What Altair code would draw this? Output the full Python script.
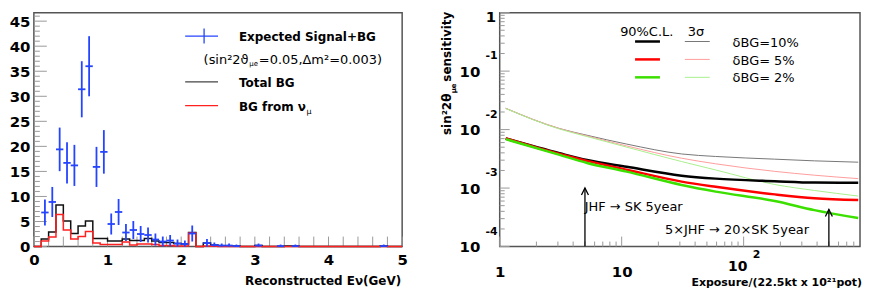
import altair as alt
import pandas as pd

FONT = "DejaVu Sans"
W1, W2, H = 370, 362, 235
BLUE = "#2444ff"
TICK = "#999999"

# ---------------- left panel data ----------------
bin_lo = [round(0.1 * i, 1) for i in range(50)]
total_bg = [0, 1.5, 2.9, 8.3, 5.1, 2.6, 4.1, 5.1, 1.6, 1.6,
            1.1, 1.1, 1.5, 1.2, 1.2, 1.6, 1.1, 0.8, 0.8, 0.6,
            0.5, 2.8, 0, 0.7, 0.3, 0.1, 0.1, 0.1, 0, 0,
            0.2, 0, 0, 0, 0.1, 0.1, 0, 0, 0, 0,
            0, 0, 0, 0, 0, 0, 0, 0.1, 0, 0]
bg_numu = [0, 1.1, 1.9, 6.4, 3.3, 1.5, 2.0, 3.0, 0.7, 0.4,
           0.4, 0.4, 0.9, 0.3, 0.5, 0.5, 0.4, 0.2, 0.2, 0.1,
           0.1, 2.7, 0, 0.1, 0.05, 0, 0, 0, 0, 0,
           0, 0, 0, 0, 0, 0, 0, 0, 0, 0,
           0, 0, 0, 0, 0, 0, 0, 0, 0, 0]
sig_x = [0.15, 0.25, 0.35, 0.45, 0.55, 0.65, 0.75, 0.85, 0.95, 1.05,
         1.15, 1.25, 1.35, 1.45, 1.55, 1.65, 1.75, 1.85, 1.95, 2.05,
         2.15, 2.35, 2.45, 2.55, 2.65, 2.75, 3.05, 3.35, 3.55, 4.75]
sig_y = [6.8, 8.9, 19.4, 16.7, 16.2, 31.4, 36.0, 15.9, 18.9, 4.5,
         6.9, 2.8, 3.3, 2.5, 2.3, 1.4, 1.0, 1.2, 0.6, 0.5,
         2.6, 0.7, 0.3, 0.2, 0.2, 0.1, 0.2, 0.1, 0.1, 0.1]
sig_err = [2.6, 3.0, 4.35, 4.1, 4.1, 5.6, 6.0, 4.0, 4.35, 2.1,
           2.6, 1.7, 1.8, 1.6, 1.5, 1.2, 1.0, 1.1, 0.8, 0.7,
           1.6, 0.8, 0.5, 0.4, 0.4, 0.3, 0.4, 0.3, 0.3, 0.3]
e_labels = [0, 1, 2, 3, 4, 5]
n_labels = [0, 5, 10, 15, 20, 25, 30, 35, 40, 45]

# ---------------- right panel data ----------------
exposure = [1.12, 3.1, 5.2, 11, 31, 59, 180, 380, 870]
cl90_10 = [0.00705, 0.00394, 0.00302, 0.00231, 0.00163, 0.00145, 0.00131, 0.00124, 0.00123]
cl90_5 = [0.00705, 0.00383, 0.00292, 0.00206, 0.00129, 0.00105, 0.00078, 0.00067, 0.000625]
cl90_2 = [0.00686, 0.00369, 0.00269, 0.00191, 0.00113, 0.00087, 0.00060, 0.00042, 0.000307]
s3_10 = [0.0231, 0.0104, 0.0080, 0.00565, 0.00383, 0.00347, 0.00312, 0.00292, 0.00277]
s3_5 = [0.0231, 0.0104, 0.0078, 0.00525, 0.00324, 0.0026, 0.00193, 0.00166, 0.00145]
s3_2 = [0.0229, 0.0102, 0.0076, 0.00501, 0.00284, 0.00204, 0.00115, 0.00091, 0.00073]
thick_names = ["90% dBG=10%", "90% dBG=5%", "90% dBG=2%"]
thin_names = ["3s dBG=10%", "3s dBG=5%", "3s dBG=2%"]
all_names = thick_names + thin_names
all_colors = ["#000000", "#ff0000", "#3ce000", "#777777", "#ff9c9c", "#a8f08c"]
arrow_x = [5, 500]
arrow_top = [0.001, 0.00043]
exp_major = [1, 10, 100]
s_major = [0.0001, 0.001, 0.01, 0.1, 1]
s_exp_text = ["-4", "-3", "-2", "-1"]
legend_pct = ["δBG=10%", "δBG= 5%", "δBG= 2%"]


def txt(text, x, y, size, weight="normal", align="left", color="black", angle=0, font=FONT):
    return alt.Chart(pd.DataFrame({"t": [text]})).mark_text(
        align=align, baseline="middle", fontSize=size, fontWeight=weight,
        font=font, color=color, angle=angle
    ).encode(text="t:N", x=alt.value(x), y=alt.value(y))


def hseg(x1, x2, y, color, w):
    return alt.Chart(pd.DataFrame({"a": [0]})).mark_rule(color=color, strokeWidth=w).encode(
        x=alt.value(x1), x2=alt.value(x2), y=alt.value(y))


def vseg(x, y1, y2, color, w):
    return alt.Chart(pd.DataFrame({"a": [0]})).mark_rule(color=color, strokeWidth=w).encode(
        x=alt.value(x), y=alt.value(y1), y2=alt.value(y2))


# ================= LEFT PANEL =================
xs1 = alt.Scale(domain=[0, 5], nice=False, zero=False)
ys1 = alt.Scale(domain=[0, 46.7], nice=False, zero=False)
ax_x1 = alt.Axis(values=e_labels, format="d", labelFont=FONT, labelFontSize=15, labelFontWeight="bold",
                 labelColor="black", ticks=False, tickSize=0, domain=False, grid=False, labelPadding=6,
                 labelFlush=False, labelOverlap=False, title=None)
ax_y1 = alt.Axis(values=n_labels, format="d", labelFont=FONT, labelFontSize=15, labelFontWeight="bold",
                 labelColor="black", ticks=False, tickSize=0, domain=False, grid=False, labelPadding=4,
                 labelOverlap=False, title=None)

ymin_df = pd.DataFrame({"v": [v for v in range(0, 47) if v % 5]})
ymaj_df = pd.DataFrame({"v": n_labels})
xt_df = pd.DataFrame({"v": [round(0.2 * i, 1) for i in range(26)]})

l_ytick_min = alt.Chart(ymin_df).mark_rule(color=TICK, strokeWidth=1).encode(
    y=alt.Y("v:Q", scale=ys1, axis=ax_y1), x=alt.value(0), x2=alt.value(6))
l_ytick_maj = alt.Chart(ymaj_df).mark_rule(color=TICK, strokeWidth=1).encode(
    y=alt.Y("v:Q", scale=ys1, axis=ax_y1), x=alt.value(0), x2=alt.value(13))
l_xtick = alt.Chart(xt_df).mark_rule(color=TICK, strokeWidth=1).encode(
    x=alt.X("v:Q", scale=xs1, axis=ax_x1), y=alt.value(H), y2=alt.value(H - 10))

hist_df = pd.DataFrame({
    "e": bin_lo + [5.0],
    "tot": total_bg + [total_bg[-1]],
    "mu": bg_numu + [bg_numu[-1]],
})
h_tot = alt.Chart(hist_df).mark_line(interpolate="step-after", color="#111111", strokeWidth=1.5).encode(
    x=alt.X("e:Q", scale=xs1, axis=ax_x1), y=alt.Y("tot:Q", scale=ys1, axis=ax_y1))
h_mu = alt.Chart(hist_df).mark_line(interpolate="step-after", color="#ff2020", strokeWidth=1.5).encode(
    x=alt.X("e:Q", scale=xs1, axis=ax_x1), y=alt.Y("mu:Q", scale=ys1, axis=ax_y1))

sig_df = pd.DataFrame({"x": sig_x, "y": sig_y, "err": sig_err})
sig_base = alt.Chart(sig_df).transform_calculate(
    lo="max(0, datum.y - datum.err)", hi="datum.y + datum.err",
    xl="datum.x - 0.05", xr="datum.x + 0.05")
sig_v = sig_base.mark_rule(color=BLUE, strokeWidth=1.8).encode(
    x=alt.X("x:Q", scale=xs1, axis=ax_x1), y=alt.Y("lo:Q", scale=ys1, axis=ax_y1), y2="hi:Q")
sig_h = sig_base.mark_rule(color=BLUE, strokeWidth=1.8).encode(
    x=alt.X("xl:Q", scale=xs1, axis=ax_x1), x2="xr:Q", y=alt.Y("y:Q", scale=ys1, axis=ax_y1))

left_decor = [
    hseg(152, 185, 23.5, BLUE, 1.3), vseg(171, 16, 31, BLUE, 1.3),
    txt("Expected Signal+BG", 206, 24, 12, "bold"),
    txt("(sin²2ϑ", 170.5, 48, 13),
    txt("μe", 216.5, 52, 7),
    txt("=0.05,Δm²=0.003)", 226, 48, 13),
    hseg(152, 185, 69.5, "#444444", 1.3),
    txt("Total BG", 206, 70.5, 12, "bold"),
    hseg(152, 185, 93.5, "#ff2020", 1.3),
    txt("BG from ν", 206, 94.5, 12, "bold"),
    txt("μ", 274, 100, 8),
    txt("Reconstructed Eν(GeV)", W1 - 1, H + 35, 12, "bold", align="right"),
]

left = alt.layer(l_ytick_min, l_ytick_maj, l_xtick, h_tot, h_mu, sig_v, sig_h, *left_decor).properties(
    width=W1, height=H)

# ================= RIGHT PANEL =================
xs2 = alt.Scale(type="log", domain=[1, 900], nice=False)
ys2 = alt.Scale(type="log", domain=[0.0001, 1], nice=False)
ax_x2 = alt.Axis(values=exp_major[:2], labelExpr="datum.value < 5 ? '1' : '10'",
                 labelFont=FONT, labelFontSize=15, labelFontWeight="bold", labelColor="black",
                 ticks=False, tickSize=0, domain=False, grid=False, labelPadding=18.5,
                 labelFlush=False, labelOverlap=False, title=None)
ax_y2 = alt.Axis(values=s_major[:4], labelExpr="'10'",
                 labelFont=FONT, labelFontSize=15, labelFontWeight="bold", labelColor="black",
                 ticks=False, tickSize=0, domain=False, grid=False, labelPadding=20,
                 labelOverlap=False, title=None)

r_ymaj = pd.DataFrame({"v": s_major})
r_ymin = pd.DataFrame({"v": [m * 10.0 ** d for d in range(-4, 0) for m in range(2, 10)]})
r_xmaj = pd.DataFrame({"v": exp_major})
r_xmin = pd.DataFrame({"v": [m * 10 ** d for d in range(0, 3) for m in range(2, 10) if m * 10 ** d < 900]})

rt1 = alt.Chart(r_ymaj).mark_rule(color=TICK).encode(
    y=alt.Y("v:Q", scale=ys2, axis=ax_y2), x=alt.value(0), x2=alt.value(10))
rt2 = alt.Chart(r_ymin).mark_rule(color=TICK).encode(
    y=alt.Y("v:Q", scale=ys2, axis=ax_y2), x=alt.value(0), x2=alt.value(5))
rt3 = alt.Chart(r_xmaj).mark_rule(color=TICK).encode(
    x=alt.X("v:Q", scale=xs2, axis=ax_x2), y=alt.value(H), y2=alt.value(H - 10))
rt4 = alt.Chart(r_xmin).mark_rule(color=TICK).encode(
    x=alt.X("v:Q", scale=xs2, axis=ax_x2), y=alt.value(H), y2=alt.value(H - 5))

rows = []
for name, vals in zip(all_names, [cl90_10, cl90_5, cl90_2, s3_10, s3_5, s3_2]):
    for e, s in zip(exposure, vals):
        rows.append({"E": e, "s": s, "series": name})
curve_df = pd.DataFrame(rows)
col = alt.Color("series:N", scale=alt.Scale(domain=all_names, range=all_colors), legend=None)
thin = alt.Chart(curve_df).transform_filter(
    alt.FieldOneOfPredicate(field="series", oneOf=thin_names)
).mark_line(strokeWidth=1, interpolate="monotone").encode(
    x=alt.X("E:Q", scale=xs2, axis=ax_x2), y=alt.Y("s:Q", scale=ys2, axis=ax_y2), color=col, detail="series:N")
thick = alt.Chart(curve_df).transform_filter(
    alt.FieldOneOfPredicate(field="series", oneOf=thick_names)
).mark_line(strokeWidth=2.5, interpolate="monotone").encode(
    x=alt.X("E:Q", scale=xs2, axis=ax_x2), y=alt.Y("s:Q", scale=ys2, axis=ax_y2), color=col, detail="series:N")

arrow_df = pd.DataFrame({"x": arrow_x, "top": arrow_top, "bot": [0.0001, 0.0001]})
arr = alt.Chart(arrow_df).mark_rule(color="black", strokeWidth=1.3).encode(
    x=alt.X("x:Q", scale=xs2, axis=ax_x2), y=alt.Y("bot:Q", scale=ys2, axis=ax_y2), y2="top:Q")
arr_head = alt.Chart(arrow_df).mark_point(shape="M-1,2L0,0L1,2", size=49, filled=False,
                                          color="black", strokeWidth=1.3, opacity=1).encode(
    x=alt.X("x:Q", scale=xs2, axis=ax_x2), y=alt.Y("top:Q", scale=ys2, axis=ax_y2))

one_lab = alt.Chart(pd.DataFrame({"v": [1], "t": ["1"]})).mark_text(
    align="right", baseline="top", fontSize=15, fontWeight="bold", font=FONT, dy=-3).encode(
    y=alt.Y("v:Q", scale=ys2, axis=ax_y2), x=alt.value(-3.5), text="t:N")
exp_lab = alt.Chart(pd.DataFrame({"v": s_major[:4], "t": s_exp_text})).mark_text(
    align="right", baseline="middle", fontSize=11, fontWeight="bold", font=FONT, dy=-15).encode(
    y=alt.Y("v:Q", scale=ys2, axis=ax_y2), x=alt.value(-2), text="t:N")
hund_lab = alt.Chart(pd.DataFrame({"v": [100], "t": ["10"]})).mark_text(
    align="center", baseline="middle", fontSize=14, fontWeight="bold", font=FONT, dx=-6).encode(
    x=alt.X("v:Q", scale=xs2, axis=ax_x2), y=alt.value(H + 21), text="t:N")
hund_exp = alt.Chart(pd.DataFrame({"v": [100], "t": ["2"]})).mark_text(
    align="center", baseline="middle", fontSize=11, fontWeight="bold", font=FONT, dx=13).encode(
    x=alt.X("v:Q", scale=xs2, axis=ax_x2), y=alt.value(H + 8.5), text="t:N")

right_decor = [
    txt("90%C.L.", 121, 19, 13),
    txt("3σ", 189, 19, 13),
    hseg(136, 161, 29, "#000000", 2.5), hseg(186, 211, 29, "#777777", 1),
    hseg(136, 161, 47, "#ff0000", 2.5), hseg(186, 211, 47, "#ff9c9c", 1),
    hseg(136, 161, 65, "#3ce000", 2.5), hseg(186, 211, 65, "#a8f08c", 1),
    txt(legend_pct[0], 234, 31, 13),
    txt(legend_pct[1], 234, 48.5, 13),
    txt(legend_pct[2], 234, 66, 13),
    txt("JHF → SK 5year", 85.5, H - 40, 13),
    txt("5×JHF → 20×SK 5year", 166, H - 17, 13),
    txt("sin²2θ", -52.5, 123, 12, "bold", angle=270),
    txt("μe", -45.5, 81, 7, "bold", angle=270),
    txt("sensitivity", -52.5, -1, 12, "bold", align="right", angle=270),
    txt("Exposure/(22.5kt x 10²¹pot)", W2 + 2, H + 36.5, 11, "bold", align="right"),
]

right = alt.layer(rt1, rt2, rt3, rt4, thin, thick, arr, arr_head, one_lab, exp_lab, hund_lab, hund_exp,
                  *right_decor).properties(width=W2, height=H)

chart = alt.hconcat(left, right, spacing=32).properties(
    padding={"left": 0, "top": 0, "right": 0, "bottom": 0}, background="white"
).configure_view(stroke="#555555", strokeWidth=1.5)

chart.save("out.html", embed_options={"renderer": "svg", "actions": False})
